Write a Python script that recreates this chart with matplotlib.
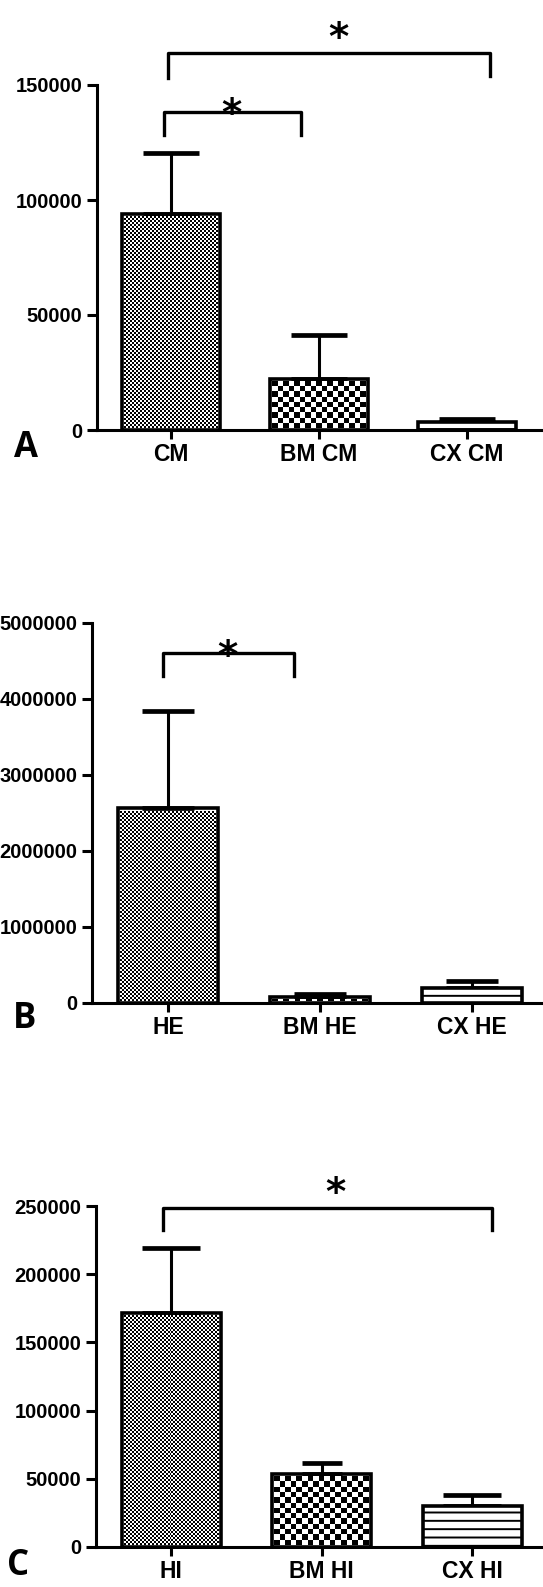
import numpy as np
import matplotlib
matplotlib.use('Agg')
import matplotlib.pyplot as plt
from matplotlib.transforms import offset_copy

W, H, DPI = 543, 1587, 100

# ---- data ----
cats_a = ['CM', 'BM CM', 'CX CM']
mean_a = [93800, 22000, 3500]
err_a = [26600, 19300, 1300]
ticks_a = [0, 50000, 100000, 150000]

cats_b = ['HE', 'BM HE', 'CX HE']
mean_b = [2560000, 75000, 200000]
err_b = [1285000, 40000, 90000]
ticks_b = [0, 1000000, 2000000, 3000000, 4000000, 5000000]

cats_c = ['HI', 'BM HI', 'CX HI']
mean_c = [171400, 53500, 29700]
err_c = [47600, 8000, 8100]
ticks_c = [0, 50000, 100000, 150000, 200000, 250000]

# significance brackets: left x, right x, top y, left leg end, right leg end
sig_a = [(-0.02, 2.155, 163900, 153000, 153900),
         (-0.044, 0.876, 138300, 128300, 128300)]
star_a = [(1.13, 175200), (0.41, 141900)]
sig_b = [(-0.034, 0.83, 4605000, 4297000, 4297000)]
star_b = [(0.39, 4700000)]
sig_c = [(-0.054, 2.13, 248700, 232400, 232400)]
star_c = [(1.09, 267600)]

plt.rcParams['hatch.linewidth'] = 1.4
tick_font = dict(family='Liberation Sans', weight='bold')

fig = plt.figure(figsize=(W / DPI, H / DPI), dpi=DPI)


def px_rect(l, r, t, b):
    return [l / W, 1 - b / H, (r - l) / W, (b - t) / H]


def checker(ax, bar, cell, inset=1.6):
    # checkerboard fill, kept just inside the bar outline
    x0 = bar.get_x()
    x1 = x0 + bar.get_width()
    h = bar.get_height()
    p0 = ax.transData.transform((x0, 0))
    p1 = ax.transData.transform((x1, h))
    qx0, qy0 = np.ceil(p0[0] + inset), np.ceil(p0[1] + inset)
    qx1, qy1 = np.floor(p1[0] - inset), np.floor(p1[1] - inset)
    if qx1 <= qx0 or qy1 <= qy0:
        return
    nc = max(1, int(round((qx1 - qx0) / cell)))
    nr = max(1, int(round((qy1 - qy0) / cell)))
    inv = ax.transData.inverted()
    d0 = inv.transform((qx0, qy0))
    d1 = inv.transform((qx1, qy1))
    board = np.indices((nr, nc)).sum(axis=0) % 2
    ax.imshow(board, cmap='gray', vmin=0, vmax=1,
              extent=(d0[0], d1[0], d0[1], d1[1]), origin='lower',
              aspect='auto', interpolation='nearest', zorder=2.5)


def panel(rect, xmax, cats, means, errs, yticks, fills, caps, sigs, stars, letter, lxy):
    ax = fig.add_axes(rect)
    x = np.arange(len(cats))
    ax.set_xlim(-0.5, xmax)
    ax.set_ylim(0, yticks[-1])

    bars = ax.bar(x, means, width=0.66, facecolor='none', edgecolor='black',
                  linewidth=2.6, zorder=3)
    for bar, kind in zip(bars, fills):
        if kind == 'lines':
            bar.set_facecolor('white')
            bar.set_hatch('--')
        else:
            checker(ax, bar, 2 if kind == 'fine' else 5.5)

    for xi, m, e, cs in zip(x, means, errs, caps):
        ax.errorbar(xi, m, yerr=[[0], [e]], fmt='none', ecolor='black',
                    elinewidth=2.2, capsize=cs, capthick=3.4, zorder=2)

    for xl, xr, yb, yl, yr in sigs:
        ax.plot([xl, xl, xr, xr], [yl, yb, yb, yr], color='black', lw=2.4,
                clip_on=False, zorder=4)
    fs = 28
    tr = offset_copy(ax.transData, fig=fig, y=-0.58 * fs, units='points')
    for sx, sy in stars:
        ax.text(sx, sy, '*', fontsize=fs, fontweight='bold', family='DejaVu Sans',
                ha='center', va='baseline', transform=tr, clip_on=False)

    ax.set_xlim(-0.5, xmax)
    ax.set_ylim(0, yticks[-1])
    ax.spines[['top', 'right']].set_visible(False)
    ax.spines[['left', 'bottom']].set_linewidth(2.2)
    ax.tick_params(axis='y', width=2.2, length=7.5, pad=3)
    ax.tick_params(axis='x', width=2.2, length=6.5, pad=3)
    ax.set_yticks(yticks)
    ax.set_yticklabels([str(t) for t in yticks], fontsize=14.5, **tick_font)
    ax.set_xticks(x)
    ax.set_xticklabels(cats, fontsize=16.5, **tick_font)

    fig.text(lxy[0] / W, 1 - lxy[1] / H, letter, fontsize=25, fontweight='bold',
             family='Open Sans', ha='left', va='baseline')
    return ax


panel(px_rect(97, 541, 85, 430), 2.5, cats_a, mean_a, err_a, ticks_a,
      ['fine', 'coarse', 'lines'], [20.5, 20.5, 20.5], sig_a, star_a, 'A', (14, 457))
panel(px_rect(92, 543, 623, 1003), 2.47, cats_b, mean_b, err_b, ticks_b,
      ['fine', 'coarse', 'lines'], [18.7, 18.7, 18.7], sig_b, star_b, 'B', (13, 1028))
panel(px_rect(96, 543, 1206, 1547), 2.47, cats_c, mean_c, err_c, ticks_c,
      ['fine', 'coarse', 'lines'], [21, 14.5, 21], sig_c, star_c, 'C', (7, 1575))

fig.savefig('out.png', dpi=DPI)
